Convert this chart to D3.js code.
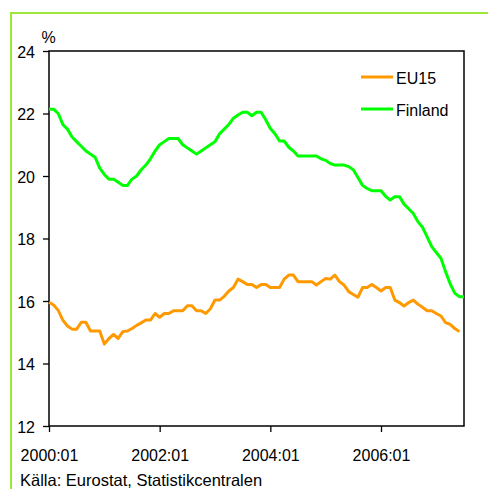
<!DOCTYPE html>
<html>
<head>
<meta charset="utf-8">
<script src="https://cdn.jsdelivr.net/npm/d3@7"></script>
<style>
  body { margin: 0; background: #fff; }
  text { font-family: "Liberation Sans", Arial, sans-serif; fill: #000; }
</style>
</head>
<body>
<div id="chart"></div>
<script>
// Monthly values, 2000:01 onwards
const finland = [
  22.14, 22.14, 22.0, 21.65, 21.5, 21.25, 21.1, 20.95, 20.8, 20.7,
  20.6, 20.25, 20.05, 19.9, 19.9, 19.8, 19.7, 19.7, 19.9, 20.0,
  20.2, 20.35, 20.55, 20.8, 21.0, 21.1, 21.2, 21.2, 21.2, 21.0,
  20.9, 20.8, 20.7, 20.8, 20.9, 21.0, 21.1, 21.35, 21.5, 21.65,
  21.85, 21.95, 22.04, 22.04, 21.93, 22.04, 22.04, 21.8, 21.52, 21.35,
  21.12, 21.12, 20.92, 20.8, 20.64, 20.64, 20.64, 20.64, 20.64, 20.55,
  20.5, 20.4, 20.35, 20.35, 20.35, 20.3, 20.2, 19.95, 19.7, 19.6,
  19.53, 19.53, 19.53, 19.35, 19.23, 19.34, 19.34, 19.1, 18.95, 18.8,
  18.54, 18.36, 18.05, 17.74, 17.55, 17.37, 16.94, 16.55, 16.25, 16.14,
  16.14
];
const eu15 = [
  15.96, 15.87, 15.7, 15.39, 15.2, 15.1, 15.1, 15.32, 15.32, 15.04,
  15.04, 15.04, 14.62, 14.8, 14.93, 14.8, 15.02, 15.04, 15.12, 15.22,
  15.3, 15.39, 15.39, 15.6, 15.48, 15.6, 15.6, 15.69, 15.69, 15.69,
  15.85, 15.85, 15.69, 15.69, 15.6, 15.75, 16.03, 16.03, 16.15, 16.32,
  16.43, 16.7, 16.62, 16.53, 16.53, 16.43, 16.53, 16.53, 16.43, 16.43,
  16.43, 16.7, 16.83, 16.83, 16.62, 16.62, 16.62, 16.62, 16.51, 16.62,
  16.72, 16.7, 16.83, 16.62, 16.51, 16.3, 16.21, 16.12, 16.43, 16.43,
  16.53, 16.43, 16.32, 16.43, 16.43, 16.03, 15.95, 15.84, 15.95, 16.03,
  15.9, 15.8, 15.69, 15.69, 15.6, 15.52, 15.31, 15.25, 15.12, 15.02
];
const xTickLabels = ["2000:01", "2002:01", "2004:01", "2006:01"];
const yTicks = [12, 14, 16, 18, 20, 22, 24];
const seriesNames = ["EU15", "Finland"];
const seriesColors = ["#ff9900", "#00ff00"];

const width = 488, height = 489;
const margin = { left: 49, top: 51, right: 464, bottom: 426 };

const svg = d3.select("#chart").append("svg")
  .attr("width", width)
  .attr("height", height);

// outer frame (only top and left edges fall inside the picture)
svg.append("rect")
  .attr("x", 11).attr("y", 13)
  .attr("width", 490).attr("height", 490)
  .attr("fill", "none")
  .attr("stroke", "#9de63a")
  .attr("stroke-width", 2);

const x = d3.scaleLinear().domain([0, 90]).range([margin.left, margin.right]);
const y = d3.scaleLinear().domain([12, 24]).range([margin.bottom, margin.top]);

// y axis
const yAxis = svg.append("g")
  .attr("transform", `translate(${margin.left},0)`)
  .call(d3.axisLeft(y).tickValues(yTicks).tickSize(6).tickPadding(8).tickFormat(d3.format("d")));
yAxis.select(".domain").remove();
yAxis.selectAll("line").attr("stroke", "#000").attr("stroke-width", 1.3);
yAxis.selectAll("text")
  .style("font-size", "16px")
  .attr("dy", "0.4em");

// x axis
const xAxis = svg.append("g")
  .attr("transform", `translate(0,${margin.bottom})`)
  .call(d3.axisBottom(x).tickValues([0, 24, 48, 72]).tickSize(6).tickPadding(18)
    .tickFormat((d, i) => xTickLabels[i]));
xAxis.select(".domain").remove();
xAxis.selectAll("line").attr("stroke", "#000").attr("stroke-width", 1.3);
xAxis.selectAll("text")
  .style("font-size", "16px");

// plot box
svg.append("rect")
  .attr("x", margin.left).attr("y", margin.top)
  .attr("width", margin.right - margin.left)
  .attr("height", margin.bottom - margin.top)
  .attr("fill", "none")
  .attr("stroke", "#000")
  .attr("stroke-width", 1.5);

// lines
const line = d3.line().x((d, i) => x(i)).y(d => y(d));
[eu15, finland].forEach((s, k) => {
  svg.append("path")
    .datum(s)
    .attr("d", line)
    .attr("fill", "none")
    .attr("stroke", seriesColors[k])
    .attr("stroke-width", 3)
    .attr("stroke-linejoin", "round");
});

// legend
seriesNames.forEach((name, k) => {
  const ly = 77 + k * 32;
  svg.append("line")
    .attr("x1", 361).attr("x2", 393)
    .attr("y1", ly).attr("y2", ly)
    .attr("stroke", seriesColors[k])
    .attr("stroke-width", 3);
  svg.append("text")
    .attr("x", 396).attr("y", ly + 7)
    .style("font-size", "16px")
    .text(name);
});

// unit label
svg.append("text")
  .attr("x", 41.5).attr("y", 43)
  .style("font-size", "16px")
  .text("%");

// source
svg.append("text")
  .attr("x", 20).attr("y", 486)
  .style("font-size", "16.5px")
  .text("Källa: Eurostat, Statistikcentralen");
</script>
</body>
</html>
